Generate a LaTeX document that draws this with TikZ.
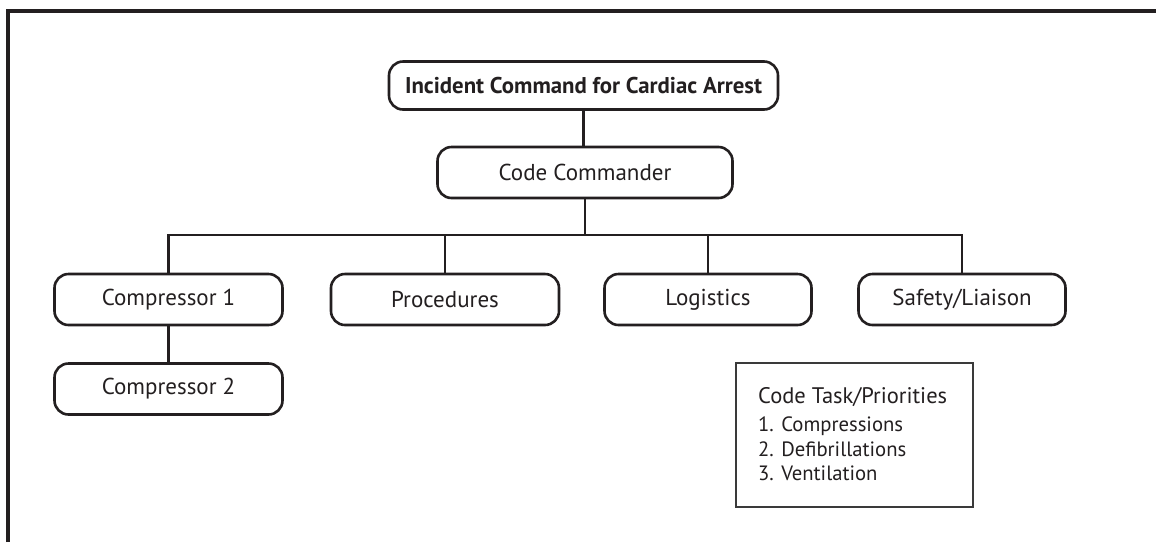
\documentclass[tikz,border=0pt]{standalone}
\usepackage{fontspec}
\setmainfont{PT Sans}
\definecolor{ink}{HTML}{231F20}
\definecolor{thin}{HTML}{3A3A3A}
\begin{document}
\begin{tikzpicture}[x=1pt,y=-1pt,
  role/.style={draw=ink, line width=2.6pt, rounded corners=14pt, minimum height=51pt,
    inner sep=0pt, text=ink, font=\fontsize{23}{27}\selectfont},
  link/.style={draw=ink, line width=2.2pt},
  listline/.style={anchor=base west, inner sep=0pt, text=ink, font=\fontsize{20.7}{24}\selectfont}
]
\useasboundingbox (0,0) rectangle (1156,542);
\fill[white] (0,0) rectangle (1156,542);
% frame (top and left only)
\draw[ink, line width=3.2pt] (8,542) -- (8,11) -- (1156,11);

\node[role, minimum width=389pt, minimum height=48pt, font=\bfseries\fontsize{22.8}{27}\selectfont] (top) at (583.5,85.5) {Incident Command for Cardiac Arrest};
\node[role, minimum width=295pt] (cc) at (585,172.5) {Code Commander};
\node[role, minimum width=228pt] (c1) at (168.5,299.5) {Compressor 1};
\node[role, minimum width=228pt] (proc) at (445,299.5) {Procedures};
\node[role, minimum width=207pt] (log) at (708,299.5) {Logistics};
\node[role, minimum width=207pt] (safe) at (962,299.5) {Safety/Liaison};
\node[role, minimum width=228pt] (c2) at (168.5,389) {Compressor 2};

\coordinate (bus) at (585,235);
\draw[link] (top.south) -- (top.south |- cc.north);
\draw[link] (cc.south) -- (cc.south |- bus);
\draw[link] (c1.north) -- (c1.north |- bus) -- (safe.north |- bus) -- (safe.north);
\draw[link] (proc.north) -- (proc.north |- bus);
\draw[link] (log.north) -- (log.north |- bus);
\draw[link] (c1.south) -- (c2.north);

% task box
\node[draw=thin, line width=1.5pt, minimum width=237pt, minimum height=144pt, inner sep=0pt, anchor=north west] (task) at (735,362) {};
\node[listline, font=\fontsize{22.5}{27}\selectfont] (t0) at (758,403) {Code Task/Priorities};
\node[listline] (t1) at (758,431) {1. Compressions};
\node[listline] (t2) at (758,456) {2. Defibrillations};
\node[listline] (t3) at (758,480) {3. Ventilation};
\end{tikzpicture}
\end{document}
